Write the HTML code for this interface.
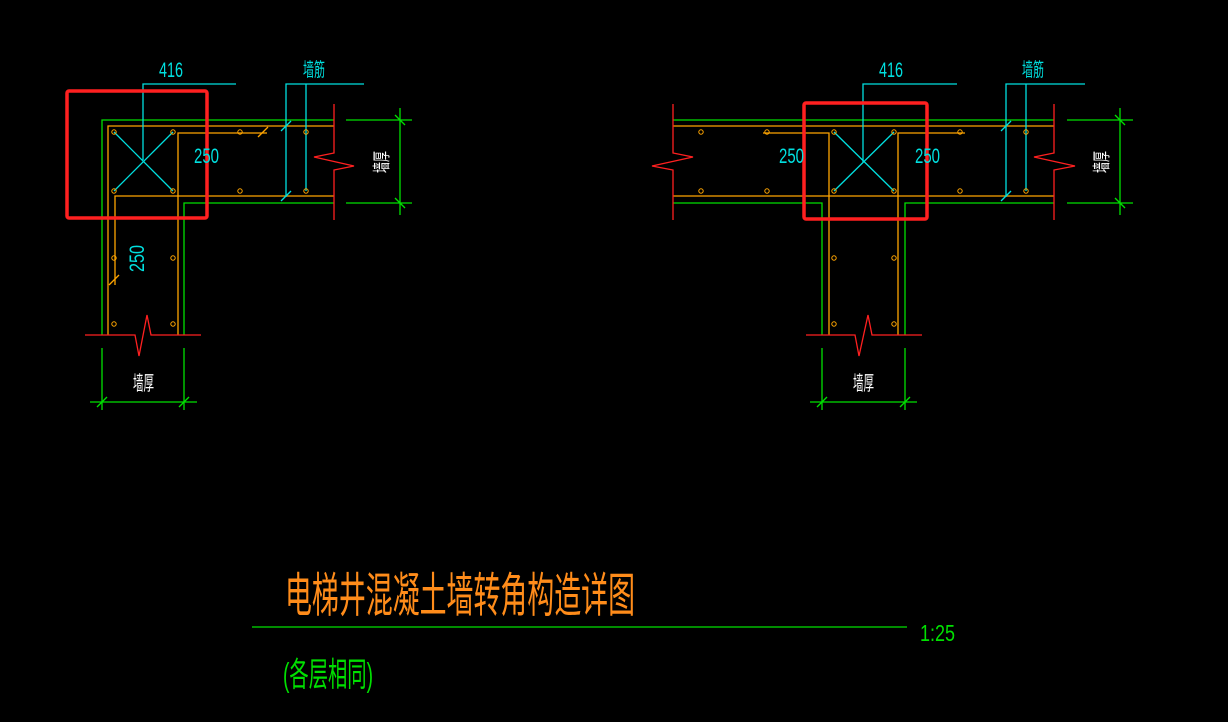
<!DOCTYPE html>
<html><head><meta charset="utf-8"><style>
html,body{margin:0;padding:0;background:#000;width:1228px;height:722px;overflow:hidden}
svg{display:block}
text{font-family:"Liberation Sans","Noto Sans CJK SC",sans-serif}
</style></head><body>
<svg width="1228" height="722" viewBox="0 0 1228 722" xmlns="http://www.w3.org/2000/svg">
<rect width="1228" height="722" fill="#000"/>
<!-- LEFT DRAWING -->
<g fill="none" stroke-width="1.3">
<polyline points="334,120 102,120 102,335" stroke="#00e000"/>
<polyline points="334,203 184,203 184,335" stroke="#00e000"/>
<polyline points="334,126 108,126 108,335" stroke="#ffa500"/>
<polyline points="334,196 115,196 115,285" stroke="#ffa500"/>
<polyline points="267,133 178,133 178,335" stroke="#ffa500"/>
<line x1="114" y1="132" x2="173" y2="191" stroke="#00e0e0"/>
<line x1="173" y1="132" x2="114" y2="191" stroke="#00e0e0"/>
<polyline points="143,160 143,84 236,84" stroke="#00e0e0"/>
<polyline points="286,197 286,84 364,84" stroke="#00e0e0"/>
<line x1="306" y1="84" x2="306" y2="191" stroke="#00e0e0"/>
<line x1="281" y1="131" x2="291" y2="121" stroke="#00e0e0"/>
<line x1="281" y1="201" x2="291" y2="191" stroke="#00e0e0"/>
<line x1="258" y1="137" x2="268" y2="127" stroke="#ffa500"/>
<line x1="109" y1="285" x2="119" y2="275" stroke="#ffa500"/>
<polyline points="334,104 334,153 314,157 354,166 334,170 334,220" stroke="#ff2020"/>
<polyline points="85,335 135,335 139,356 147,315 151,335 201,335" stroke="#ff2020"/>
<line x1="346" y1="120" x2="412" y2="120" stroke="#00e000"/>
<line x1="346" y1="203" x2="412" y2="203" stroke="#00e000"/>
<line x1="400" y1="108" x2="400" y2="215" stroke="#00e000"/>
<line x1="395" y1="115" x2="405" y2="125" stroke="#00e000"/>
<line x1="395" y1="198" x2="405" y2="208" stroke="#00e000"/>
<line x1="102" y1="348" x2="102" y2="410" stroke="#00e000"/>
<line x1="184" y1="348" x2="184" y2="410" stroke="#00e000"/>
<line x1="90" y1="402" x2="197" y2="402" stroke="#00e000"/>
<line x1="97" y1="407" x2="107" y2="397" stroke="#00e000"/>
<line x1="179" y1="407" x2="189" y2="397" stroke="#00e000"/>
<rect x="67" y="91" width="140" height="127" stroke="#ff2020" stroke-width="3.5" rx="2"/>
</g>
<g fill="none" stroke="#ffa500" stroke-width="1">
<circle cx="114" cy="132" r="2.2"/><circle cx="173" cy="132" r="2.2"/><circle cx="114" cy="191" r="2.2"/><circle cx="173" cy="191" r="2.2"/>
<circle cx="240" cy="132" r="2.2"/><circle cx="240" cy="191" r="2.2"/><circle cx="306" cy="132" r="2.2"/><circle cx="306" cy="191" r="2.2"/>
<circle cx="114" cy="258" r="2.2"/><circle cx="173" cy="258" r="2.2"/><circle cx="114" cy="324" r="2.2"/><circle cx="173" cy="324" r="2.2"/>
</g>
<g font-size="21" fill="#00e0e0">
<text x="159" y="77" textLength="24" lengthAdjust="spacingAndGlyphs">416</text>
<text x="194" y="163" textLength="25" lengthAdjust="spacingAndGlyphs">250</text>
<text transform="translate(144,272) rotate(-90)" textLength="27" lengthAdjust="spacingAndGlyphs">250</text>
<text x="303" y="76" font-size="19" textLength="22" lengthAdjust="spacingAndGlyphs">墙筋</text>
</g>
<g font-size="18" fill="#fff">
<text transform="translate(388,173) rotate(-90)" textLength="22" lengthAdjust="spacingAndGlyphs">墙厚</text>
<text x="133" y="390" font-size="20" textLength="21" lengthAdjust="spacingAndGlyphs">墙厚</text>
</g>

<!-- RIGHT DRAWING -->
<g fill="none" stroke-width="1.3">
<line x1="673" y1="120" x2="1054" y2="120" stroke="#00e000"/>
<polyline points="673,203 822,203 822,335" stroke="#00e000"/>
<polyline points="1054,203 905,203 905,335" stroke="#00e000"/>
<line x1="673" y1="126" x2="1054" y2="126" stroke="#ffa500"/>
<line x1="673" y1="196" x2="1054" y2="196" stroke="#ffa500"/>
<polyline points="763,133 829,133 829,335" stroke="#ffa500"/>
<polyline points="965,133 898,133 898,335" stroke="#ffa500"/>
<line x1="834" y1="132" x2="894" y2="191" stroke="#00e0e0"/>
<line x1="894" y1="132" x2="834" y2="191" stroke="#00e0e0"/>
<polyline points="863,162 863,84 957,84" stroke="#00e0e0"/>
<polyline points="1006,197 1006,84 1085,84" stroke="#00e0e0"/>
<line x1="1026" y1="84" x2="1026" y2="191" stroke="#00e0e0"/>
<line x1="1001" y1="131" x2="1011" y2="121" stroke="#00e0e0"/>
<line x1="1001" y1="201" x2="1011" y2="191" stroke="#00e0e0"/>
<polyline points="673,104 673,153 693,157 652,166 673,170 673,220" stroke="#ff2020"/>
<polyline points="1054,104 1054,153 1034,157 1075,166 1054,170 1054,220" stroke="#ff2020"/>
<polyline points="806,335 855,335 859,356 868,315 872,335 922,335" stroke="#ff2020"/>
<line x1="1067" y1="120" x2="1133" y2="120" stroke="#00e000"/>
<line x1="1067" y1="203" x2="1133" y2="203" stroke="#00e000"/>
<line x1="1120" y1="108" x2="1120" y2="215" stroke="#00e000"/>
<line x1="1115" y1="115" x2="1125" y2="125" stroke="#00e000"/>
<line x1="1115" y1="198" x2="1125" y2="208" stroke="#00e000"/>
<line x1="822" y1="348" x2="822" y2="410" stroke="#00e000"/>
<line x1="905" y1="348" x2="905" y2="410" stroke="#00e000"/>
<line x1="810" y1="402" x2="917" y2="402" stroke="#00e000"/>
<line x1="817" y1="407" x2="827" y2="397" stroke="#00e000"/>
<line x1="900" y1="407" x2="910" y2="397" stroke="#00e000"/>
<rect x="804" y="103" width="123" height="116" stroke="#ff2020" stroke-width="3.5" rx="2"/>
</g>
<g fill="none" stroke="#ffa500" stroke-width="1">
<circle cx="701" cy="132" r="2.2"/><circle cx="767" cy="132" r="2.2"/><circle cx="834" cy="132" r="2.2"/><circle cx="894" cy="132" r="2.2"/><circle cx="960" cy="132" r="2.2"/><circle cx="1026" cy="132" r="2.2"/>
<circle cx="701" cy="191" r="2.2"/><circle cx="767" cy="191" r="2.2"/><circle cx="834" cy="191" r="2.2"/><circle cx="894" cy="191" r="2.2"/><circle cx="960" cy="191" r="2.2"/><circle cx="1026" cy="191" r="2.2"/>
<circle cx="834" cy="258" r="2.2"/><circle cx="894" cy="258" r="2.2"/><circle cx="834" cy="324" r="2.2"/><circle cx="894" cy="324" r="2.2"/>
</g>
<g font-size="21" fill="#00e0e0">
<text x="879" y="77" textLength="24" lengthAdjust="spacingAndGlyphs">416</text>
<text x="779" y="163" textLength="25" lengthAdjust="spacingAndGlyphs">250</text>
<text x="915" y="163" textLength="25" lengthAdjust="spacingAndGlyphs">250</text>
<text x="1022" y="76" font-size="19" textLength="22" lengthAdjust="spacingAndGlyphs">墙筋</text>
</g>
<g font-size="18" fill="#fff">
<text transform="translate(1108,173) rotate(-90)" textLength="22" lengthAdjust="spacingAndGlyphs">墙厚</text>
<text x="853" y="390" font-size="20" textLength="21" lengthAdjust="spacingAndGlyphs">墙厚</text>
</g>

<!-- TITLE -->
<text transform="translate(285,612) scale(1,1.25)" font-size="38" fill="#ff8c1a" textLength="350" lengthAdjust="spacingAndGlyphs">电梯井混凝土墙转角构造详图</text>
<line x1="252" y1="627" x2="907" y2="627" stroke="#00e000" stroke-width="1.3"/>
<text x="920" y="641" font-size="23" fill="#00e000" textLength="35" lengthAdjust="spacingAndGlyphs">1:25</text>
<text transform="translate(283,686) scale(1,1.2)" font-size="28" fill="#00e000" textLength="90" lengthAdjust="spacingAndGlyphs">(各层相同)</text>
</svg>
</body></html>
